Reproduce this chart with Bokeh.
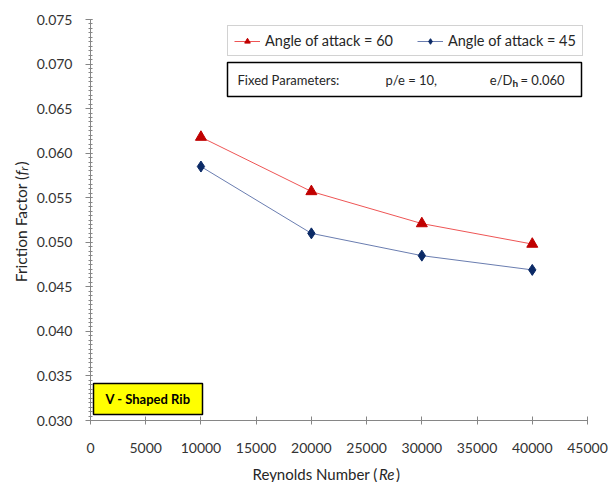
from math import pi
from bokeh.plotting import figure
from bokeh.models import (Label, BoxAnnotation, Legend, LegendItem,
                          SingleIntervalTicker, NumeralTickFormatter, Range1d)
from bokeh.embed import file_html
from bokeh.resources import INLINE

# ---------------- data ----------------
reynolds = [10000, 20000, 30000, 40000]
f_aoa60 = [0.0618, 0.0557, 0.0521, 0.0498]
f_aoa45 = [0.0585, 0.0510, 0.0485, 0.0469]
series_labels = ["Angle of attack = 60", "Angle of attack = 45"]
x_range_vals = (0, 45000)
y_range_vals = (0.030, 0.075)

# ---------------- layout ----------------
W, H = 608, 482
AL, AT, AW, AH = 90, 19, 497, 401  # axes box (left/top/width/height) in canvas px
X0, X1 = x_range_vals
Y0, Y1 = y_range_vals


def dx(px):  # canvas px -> data x
    return X0 + (px - AL) / AW * (X1 - X0)


def dy(py):  # canvas px -> data y
    return Y1 - (py - AT) / AH * (Y1 - Y0)


FONT = "Lato"
TXT = "#262626"
AX = "#868686"

# the frame covers the whole canvas; axes are drawn at fixed locations
p = figure(width=W, height=H, output_backend="svg", toolbar_location=None,
           title=None,
           x_range=Range1d(dx(0), dx(W)), y_range=Range1d(dy(H), dy(0)),
           min_border_left=0, min_border_top=0,
           min_border_right=0, min_border_bottom=0)
p.outline_line_color = None
p.xgrid.visible = False
p.ygrid.visible = False
p.background_fill_color = "white"
p.border_fill_color = "white"

# axes
p.xaxis.fixed_location = Y0
p.yaxis.fixed_location = X0
p.xaxis.bounds = (X0, X1)
p.yaxis.bounds = (Y0, Y1)
p.xaxis.ticker = SingleIntervalTicker(interval=5000, num_minor_ticks=0)
p.yaxis.ticker = SingleIntervalTicker(interval=0.005, num_minor_ticks=10)
p.xaxis.formatter = NumeralTickFormatter(format="0")
p.yaxis.formatter = NumeralTickFormatter(format="0.000")
for ax in (p.xaxis[0], p.yaxis[0]):
    ax.axis_line_color = AX
    ax.major_tick_line_color = AX
    ax.minor_tick_line_color = AX
    ax.major_label_text_font = FONT
    ax.major_label_text_font_size = "14px"
    ax.major_label_text_color = "#333333"
p.yaxis.major_tick_out = 5
p.yaxis.major_tick_in = 2
p.yaxis.minor_tick_out = 2
p.yaxis.minor_tick_in = 2
p.yaxis.major_label_standoff = 13
p.xaxis.major_tick_out = 4
p.xaxis.major_tick_in = 4
p.xaxis.major_label_standoff = 18

# series
r1l = p.line(reynolds, f_aoa60, line_color="#EE5555", line_width=1)
r1m = p.scatter(reynolds, f_aoa60, marker="triangle", size=11,
                fill_color="#C00000", line_color="#C00000")
r2l = p.line(reynolds, f_aoa45, line_color="#6A7DB0", line_width=1)
r2m = p.scatter(reynolds, f_aoa45, marker="diamond", size=11,
                fill_color="#0B2A66", line_color="#0B2A66")

legend = Legend(items=[LegendItem(label=series_labels[0], renderers=[r1l, r1m]),
                       LegendItem(label=series_labels[1], renderers=[r2l, r2m])],
                orientation="horizontal", location=(227, H - 56), margin=0,
                padding=6, spacing=24, glyph_width=26, glyph_height=14,
                label_standoff=5, label_height=17, label_text_font=FONT,
                label_text_font_size="14.5px", label_text_color=TXT,
                border_line_color="#A6A6A6", border_line_width=1,
                background_fill_color="white", background_fill_alpha=1)
p.add_layout(legend)

# Fixed parameters box
p.add_layout(BoxAnnotation(left=dx(227), right=dx(581), top=dy(62), bottom=dy(96),
                           fill_color="white", fill_alpha=1,
                           line_color="black", line_width=1.5, line_alpha=1))


def lab(px, py, text, size="13px", style="normal", align="left",
        baseline="middle", angle=0.0, color=TXT):
    p.add_layout(Label(x=dx(px), y=dy(py), text=text, text_font=FONT,
                       text_font_size=size, text_font_style=style,
                       text_align=align, text_baseline=baseline, angle=angle,
                       text_color=color))


lab(237, 79, "Fixed Parameters:")
lab(385, 79, "p/e = 10,")
lab(512, 79, "e/D", align="right")
lab(512, 82, "h", size="10px", style="bold")
lab(520, 79, "= 0.060")

# V - Shaped Rib box
p.add_layout(BoxAnnotation(left=dx(93), right=dx(202), top=dy(383), bottom=dy(414),
                           fill_color="#FFFF00", fill_alpha=1,
                           line_color="black", line_width=1.5, line_alpha=1))
lab(147.5, 398.5, "V - Shaped Rib", size="13px", style="bold", align="center",
    color="black")

# y-axis title: Friction Factor (f_r)
lab(20, 175, "Friction Factor (", size="15.5px", align="right", angle=pi / 2)
lab(20, 175, "f", size="15.5px", style="italic", align="left", angle=pi / 2)
lab(23, 170, "r", size="11px", style="italic", align="left", angle=pi / 2)
lab(20, 165, ")", size="15.5px", align="left", angle=pi / 2)

# x-axis title: Reynolds Number (Re)
lab(381, 473, "Reynolds Number  (", size="15px", align="right")
lab(378.5, 473, "Re", size="15px", style="italic", align="left")
lab(395.5, 473, ")", size="15px", align="left")

open("out.html", "w").write(file_html(p, INLINE))
